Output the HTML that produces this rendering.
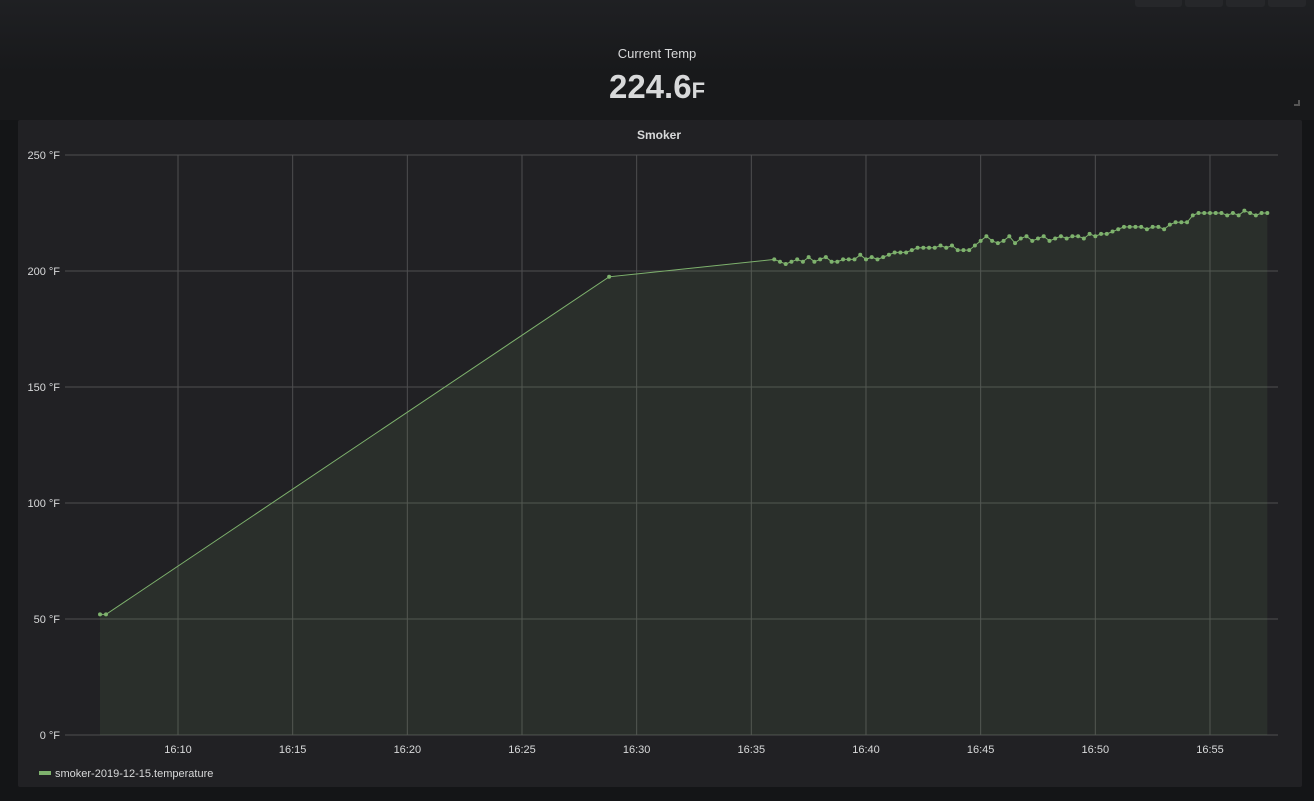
<!DOCTYPE html>
<html><head><meta charset="utf-8">
<style>
html,body{margin:0;padding:0;width:1314px;height:801px;overflow:hidden;background:#141517;font-family:"Liberation Sans",sans-serif;}
#top{position:absolute;left:0;top:0;width:1314px;height:120px;background:linear-gradient(#1f2023,#18191b 60%);}
.btn{position:absolute;top:0;height:7px;background:#26272a;border-radius:0 0 3px 3px;}
#title1{position:absolute;left:0;width:1314px;top:46px;text-align:center;color:#d8d9da;font-size:13px;}
#big{position:absolute;left:0;width:1314px;top:68px;text-align:center;color:#d8d9da;font-size:33px;font-weight:bold;}
#panel{position:absolute;left:18px;top:120px;width:1284px;height:667px;background:#212124;border-radius:2px;}
svg{position:absolute;left:0;top:0;}
</style></head><body>
<div id="top">
  <div class="btn" style="left:1135px;width:47px"></div>
  <div class="btn" style="left:1185px;width:38px"></div>
  <div class="btn" style="left:1226px;width:39px"></div>
  <div class="btn" style="left:1268px;width:38px"></div>
  <div id="title1">Current Temp</div>
  <div id="big">224.6<span style="font-size:22px">F</span></div>
  <div style="position:absolute;left:1294px;top:100px;width:6px;height:6px;border-right:2px solid #555;border-bottom:2px solid #555;box-sizing:border-box"></div>
</div>
<div id="panel"></div>
<svg id="chart" width="1314" height="801"></svg>
<script>
const yTicks=[0,50,100,150,200,250];
const xTickMinutes=[10,15,20,25,30,35,40,45,50,55];
const xTickLabels=["16:10","16:15","16:20","16:25","16:30","16:35","16:40","16:45","16:50","16:55"];
const sparseTimes=[6.6,6.86,28.8];
const sparseValues=[52,52,197.5];
const denseStart=36.0, denseStep=0.25;
const denseValues=[205,204,203,204,205,204,206,204,205,206,204,204,205,205,205,207,205,206,205,206,207,208,208,208,209,210,210,210,210,211,210,211,209,209,209,211,213,215,213,212,213,215,212,214,215,213,214,215,213,214,215,214,215,215,214,216,215,216,216,217,218,219,219,219,219,218,219,219,218,220,221,221,221,224,225,225,225,225,225,224,225,224,226,225,224,225,225];
const NS="http://www.w3.org/2000/svg";
const svg=document.getElementById('chart');
const X=t=>178+(t-10)*22.933;
const Y=v=>735-v*2.32;
function el(tag,attrs,parent){const e=document.createElementNS(NS,tag);for(const k in attrs)e.setAttribute(k,attrs[k]);(parent||svg).appendChild(e);return e;}
let t=el('text',{x:659,y:139,'text-anchor':'middle',fill:'#d8d9da','font-size':12,'font-weight':'bold'});
t.textContent='Smoker';
yTicks.forEach(v=>{
  const g=el('line',{x1:65,x2:1278,y1:Y(v),y2:Y(v),stroke:'#4e4e50','stroke-width':1});
  
  const l=el('text',{x:60,y:Y(v)+4,'text-anchor':'end',fill:'#d8d9da','font-size':11});
  
  l.textContent=v+' °F';
});
xTickMinutes.forEach((m,i)=>{
  const g=el('line',{x1:X(m),x2:X(m),y1:Y(250),y2:Y(0),stroke:'#4e4e50','stroke-width':1});
  
  const l=el('text',{x:X(m),y:753,'text-anchor':'middle',fill:'#d8d9da','font-size':11});
  
  l.textContent=xTickLabels[i];
});
const pts=[];
sparseTimes.forEach((tm,i)=>pts.push([X(tm),Y(sparseValues[i])]));
denseValues.forEach((v,i)=>pts.push([X(denseStart+i*denseStep),Y(v)]));
const lineD=pts.map((p,i)=>(i?'L':'M')+p[0].toFixed(1)+','+p[1].toFixed(1)).join('');
const area=el('path',{d:lineD+'L'+pts[pts.length-1][0].toFixed(1)+','+Y(0)+'L'+pts[0][0].toFixed(1)+','+Y(0)+'Z',fill:'rgba(126,178,109,0.1)'});

const line=el('path',{d:lineD,fill:'none',stroke:'#7eb26d','stroke-width':1});

pts.forEach((p,i)=>{
  const c=el('circle',{cx:p[0],cy:p[1],r:2,fill:'#7eb26d'});
  
});
const lg=el('rect',{x:39,y:771,width:12,height:4,fill:'#7eb26d'});

const lt=el('text',{x:55,y:777,fill:'#d8d9da','font-size':11});

lt.textContent='smoker-2019-12-15.temperature';
</script>
</body></html>
